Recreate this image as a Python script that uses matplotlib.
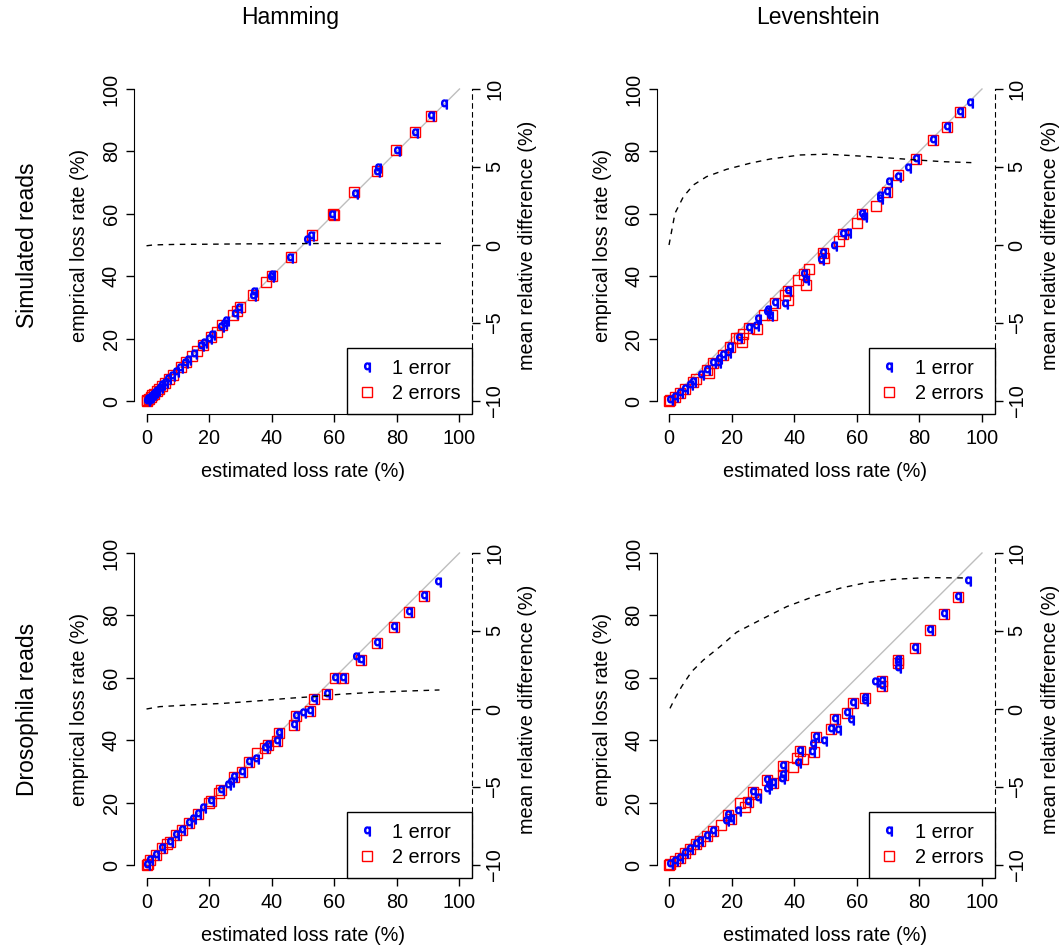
import matplotlib
matplotlib.use("Agg")
import matplotlib.pyplot as plt
from matplotlib.lines import Line2D

plt.rcParams["font.family"] = ["Liberation Sans", "DejaVu Sans"]
plt.rcParams["axes.unicode_minus"] = True

W, H = 1062, 947

# ---------------- data ----------------
# Simulated reads, Hamming
sim_ham_x1 = [0.2, 0.6, 1.0, 1.5, 2.1, 2.7, 3.4, 4.2, 5.1, 6.0, 7.0, 8.2, 9.5, 10.8,
              12.4, 13.2, 15.3, 17.5, 18.5, 19.9, 21.0, 23.8, 24.6, 25.3, 28.3, 29.5,
              33.9, 34.5, 39.9, 40.2, 46.0, 51.3, 52.6, 59.3, 66.7, 73.6, 74.0, 79.9,
              85.7, 91.0, 95.0]
sim_ham_y1 = [0.1, 0.5, 0.9, 1.4, 2.0, 2.6, 3.3, 4.1, 5.0, 5.9, 6.9, 8.0, 9.3, 10.6,
              12.2, 13.3, 15.2, 17.6, 18.6, 20.0, 21.2, 23.6, 24.7, 25.5, 28.0, 29.7,
              33.5, 34.8, 39.8, 40.5, 45.8, 51.6, 53.0, 59.6, 66.5, 73.3, 74.7, 80.1,
              85.8, 91.2, 95.3]
sim_ham_x2 = [0.0, 0.3, 0.8, 1.3, 1.8, 2.5, 3.2, 4.0, 5.0, 6.0, 7.3, 8.5, 11.0, 12.5,
              14.6, 16.0, 18.0, 20.5, 22.5, 24.2, 27.5, 29.0, 30.0, 34.0, 38.2, 40.0,
              46.2, 52.8, 59.5, 60.0, 66.4, 73.7, 79.8, 85.7, 91.0]
sim_ham_y2 = [0.0, 0.2, 0.7, 1.2, 1.8, 2.4, 3.1, 3.9, 4.8, 5.8, 7.1, 8.3, 10.9, 12.5,
              14.5, 16.0, 17.9, 20.4, 22.2, 24.4, 27.6, 28.9, 30.2, 34.0, 38.3, 40.0,
              46.1, 53.2, 59.8, 59.6, 66.9, 73.6, 80.5, 86.2, 91.4]
sim_ham_dx = [0, 2, 5, 10, 20, 30, 40, 50, 60, 70, 80, 90, 95]
sim_ham_dy = [-0.05, 0.0, 0.02, 0.04, 0.05, 0.07, 0.08, 0.09, 0.1, 0.1, 0.1, 0.1, 0.1]

# Simulated reads, Levenshtein
sim_lev_x1 = [0.3, 1.9, 3.5, 5.1, 6.7, 7.8, 10.1, 12.0, 14.2, 15.8, 16.1, 17.3, 19.0,
              19.5, 22.5, 25.7, 27.8, 28.5, 31.2, 31.7, 32.3, 33.9, 36.9, 38.1, 43.1,
              43.8, 48.6, 49.3, 52.7, 55.5, 57.3, 61.6, 62.3, 67.4, 67.4, 69.5, 70.3,
              73.3, 76.5, 78.9, 84.2, 88.7, 93.0, 96.2]
sim_lev_y1 = [0.3, 1.4, 2.5, 3.7, 5.1, 6.2, 8.4, 9.9, 12.3, 12.1, 13.6, 14.7, 15.3,
              17.2, 20.1, 23.3, 24.0, 26.2, 28.5, 29.2, 27.1, 31.3, 31.1, 35.4, 40.7,
              38.8, 45.2, 47.5, 49.8, 53.5, 53.9, 59.8, 58.9, 65.7, 64.6, 67.1, 70.3,
              71.9, 74.6, 77.6, 83.7, 87.9, 92.5, 95.4]
sim_lev_x2 = [0.0, 0.3, 1.9, 3.5, 5.1, 7.8, 8.6, 12.0, 12.9, 14.2, 17.3, 19.5, 21.4,
              22.5, 23.2, 23.7, 25.7, 28.0, 30.2, 32.8, 33.9, 37.1, 38.1, 38.1, 41.3,
              43.1, 43.8, 44.8, 49.3, 49.5, 54.4, 55.5, 60.2, 61.6, 66.1, 69.5, 73.3,
              78.9, 84.2, 88.7, 93.0]
sim_lev_y2 = [0.0, 0.3, 1.4, 2.5, 3.7, 6.2, 7.0, 9.9, 9.1, 12.3, 14.7, 17.2, 20.1,
              20.1, 19.0, 21.4, 23.3, 23.0, 27.6, 27.6, 31.3, 34.0, 35.4, 32.4, 38.8,
              40.7, 37.2, 42.2, 47.5, 45.8, 51.3, 53.5, 57.0, 59.8, 62.5, 67.1, 72.5,
              77.6, 83.7, 87.9, 92.5]
sim_lev_dx = [0, 1.9, 4.6, 7.8, 12.0, 18.4, 25.9, 32.3, 41.9, 50.4, 61.0, 71.7, 79.1,
              87.6, 96.6]
sim_lev_dy = [0.0, 2.03, 3.1, 3.85, 4.38, 4.85, 5.24, 5.51, 5.77, 5.82, 5.7, 5.56,
              5.45, 5.34, 5.28]

# Drosophila reads, Hamming
dro_ham_x1 = [0.0, 1.0, 2.9, 5.0, 7.6, 9.5, 11.4, 13.5, 14.8, 16.4, 18.2, 20.7, 23.9,
              26.0, 27.0, 28.1, 30.6, 32.9, 35.0, 37.7, 38.8, 41.6, 42.3, 47.0, 47.8,
              49.9, 52.1, 53.4, 57.6, 60.3, 62.9, 67.0, 68.6, 73.7, 79.0, 83.8, 88.8,
              93.1]
dro_ham_y1 = [0.0, 1.6, 3.2, 5.3, 7.5, 9.6, 11.2, 13.4, 14.9, 16.2, 18.2, 20.5, 24.0,
              25.6, 26.5, 28.1, 29.9, 32.9, 34.0, 37.6, 38.5, 39.7, 42.2, 44.9, 47.8,
              48.6, 49.5, 53.2, 54.7, 60.0, 60.0, 66.8, 65.7, 71.1, 76.4, 81.2, 86.3,
              90.8]
dro_ham_x2 = [0.0, 0.4, 1.0, 2.9, 5.0, 6.5, 7.6, 9.5, 11.4, 13.5, 16.4, 20.1, 20.7,
              23.3, 23.9, 28.1, 30.6, 32.9, 35.4, 37.7, 38.8, 41.6, 42.3, 47.0, 47.8,
              52.1, 53.4, 57.6, 60.3, 62.9, 68.6, 73.7, 79.0, 83.8, 88.8]
dro_ham_y2 = [0.0, 0.4, 1.6, 3.2, 5.3, 6.6, 7.5, 9.6, 11.2, 13.4, 16.2, 19.8, 20.5,
              23.0, 24.0, 28.1, 29.9, 32.9, 35.9, 37.6, 38.5, 39.7, 42.2, 44.9, 47.8,
              49.5, 53.2, 54.7, 60.0, 60.0, 65.7, 71.1, 76.4, 81.2, 86.3]
dro_ham_dx = [0, 4.2, 13.7, 24.4, 35.0, 45.7, 53.1, 61.7, 72.3, 83.0, 93.6]
dro_ham_dy = [0.0, 0.15, 0.26, 0.36, 0.51, 0.69, 0.79, 0.94, 1.07, 1.15, 1.22]

# Drosophila reads, Levenshtein
dro_lev_x1 = [0.3, 1.9, 3.5, 5.1, 6.7, 8.6, 9.9, 12.0, 14.2, 18.2, 18.9, 19.7, 22.2,
              25.3, 26.9, 28.5, 31.2, 31.4, 32.0, 33.3, 36.0, 36.5, 36.5, 41.1, 41.9,
              45.6, 46.1, 47.0, 49.6, 51.7, 53.0, 54.1, 57.0, 58.1, 58.9, 62.6, 62.6,
              65.8, 67.9, 67.9, 73.3, 73.3, 73.3, 78.6, 83.4, 87.9, 92.2, 95.6]
dro_lev_y1 = [0.2, 1.3, 2.3, 3.7, 5.1, 6.6, 7.7, 9.2, 11.0, 14.1, 16.0, 14.9, 17.3,
              20.1, 23.5, 21.4, 24.3, 27.2, 25.6, 26.2, 27.5, 31.8, 28.8, 32.6, 36.5,
              36.3, 38.7, 41.1, 39.7, 43.6, 46.7, 43.3, 48.6, 46.5, 52.0, 53.6, 52.6,
              58.8, 59.0, 57.5, 65.7, 64.6, 63.2, 69.7, 75.3, 80.3, 85.8, 91.0]
dro_lev_x2 = [0.0, 0.3, 1.9, 3.5, 5.1, 6.7, 8.6, 9.9, 12.0, 14.2, 16.5, 18.9, 19.7,
              22.7, 24.3, 25.3, 26.9, 27.8, 31.4, 33.3, 36.5, 36.5, 39.7, 40.8, 41.9,
              42.9, 46.3, 47.0, 51.7, 53.0, 57.0, 58.9, 62.6, 67.9, 67.9, 73.3, 73.3,
              78.6, 83.4, 87.9, 92.2]
dro_lev_y2 = [0.0, 0.2, 1.3, 2.3, 3.7, 5.1, 6.6, 7.7, 9.2, 11.0, 12.8, 16.0, 14.9,
              19.8, 18.7, 20.1, 23.5, 22.6, 27.2, 26.2, 31.8, 28.8, 31.5, 34.2, 36.5,
              33.9, 36.3, 41.1, 43.6, 46.7, 48.6, 52.0, 53.6, 59.0, 57.5, 65.7, 64.6,
              69.7, 75.3, 80.3, 85.8]
dro_lev_dx = [0.3, 1.9, 4.0, 7.2, 11.0, 16.3, 21.6, 29.1, 37.6, 46.1, 54.6, 63.1,
              71.7, 82.3, 94.6]
dro_lev_dy = [0.04, 0.68, 1.43, 2.39, 3.14, 4.0, 4.92, 5.7, 6.56, 7.2, 7.74, 8.1,
              8.31, 8.42, 8.4]

diag = [0, 100]
xy_ticks = [0, 20, 40, 60, 80, 100]
diff_ticks = [-10, -5, 0, 5, 10]
col_titles = ["Hamming", "Levenshtein"]
row_titles = ["Simulated reads", "Drosophila reads"]

panels = [
    (sim_ham_x1, sim_ham_y1, sim_ham_x2, sim_ham_y2, sim_ham_dx, sim_ham_dy),
    (sim_lev_x1, sim_lev_y1, sim_lev_x2, sim_lev_y2, sim_lev_dx, sim_lev_dy),
    (dro_ham_x1, dro_ham_y1, dro_ham_x2, dro_ham_y2, dro_ham_dx, dro_ham_dy),
    (dro_lev_x1, dro_lev_y1, dro_lev_x2, dro_lev_y2, dro_lev_dx, dro_lev_dy),
]

# pixel boxes of the plot regions (x0, y0, x1, y1)
boxes = [(134, 76.5, 472, 413.5), (656.5, 76.5, 994.5, 413.5),
         (134, 540.5, 472, 877.5), (656.5, 540.5, 994.5, 877.5)]

FS = 14.3
BLUE = "#0000FF"
RED = "#FF0000"
QMARK = r"$\mathsf{q}$"

fig = plt.figure(figsize=(W / 100, H / 100), dpi=100)
fig.patch.set_facecolor("white")

for (x1, y1, x2, y2, dx, dy), (bx0, by0, bx1, by1) in zip(panels, boxes):
    ax = fig.add_axes([bx0 / W, 1 - by1 / H, (bx1 - bx0) / W, (by1 - by0) / H])
    ax.set_xlim(-4, 104)
    ax.set_ylim(-4, 104)
    ax.plot(diag, diag, color="#BEBEBE", lw=1, zorder=1)
    ax.plot(x2, y2, ls="none", marker="s", ms=7, mfc="none", mec=RED, mew=1, zorder=2)
    ax.plot(x1, y1, ls="none", marker=QMARK, ms=6.5, color=BLUE, zorder=3)

    for s in ("top", "right"):
        ax.spines[s].set_visible(False)
    ax.spines["bottom"].set_bounds(0, 100)
    ax.spines["left"].set_bounds(0, 100)
    ax.set_xticks(xy_ticks)
    ax.set_yticks(xy_ticks)
    ax.tick_params(direction="out", length=5.5, width=1, labelsize=FS, pad=4)
    ax.tick_params(axis="x", pad=5.5)
    for lab in ax.get_yticklabels():
        lab.set_rotation(90)
        lab.set_va("center")
    ax.set_xlabel("estimated loss rate (%)", fontsize=FS, labelpad=10)
    ax.set_ylabel("emprical loss rate (%)", fontsize=FS, labelpad=9)

    # right axis: mean relative difference, dashed
    tw = ax.twinx()
    tw.set_ylim(-10.8, 10.8)
    tw.plot(dx, dy, color="black", lw=1, ls=(0, (4, 4)))
    for s in ("top", "left", "bottom"):
        tw.spines[s].set_visible(False)
    tw.spines["right"].set_bounds(-10, 10)
    tw.spines["right"].set_linestyle((0, (4, 4)))
    tw.set_yticks(diff_ticks)
    tw.tick_params(direction="out", length=5.5, width=1, labelsize=FS, pad=4)
    for lab in tw.get_yticklabels():
        lab.set_rotation(90)
        lab.set_va("center")
    tw.set_ylabel("mean relative difference (%)", fontsize=FS, labelpad=10)

    handles = [
        Line2D([], [], ls="none", marker=QMARK, ms=6.5, color=BLUE),
        Line2D([], [], ls="none", marker="s", ms=7, mfc="none", mec=RED, mew=1),
    ]
    leg = tw.legend(handles, ["1 error", "2 errors"], loc="lower right",
                    bbox_to_anchor=(1, 0), borderaxespad=0, fontsize=FS,
                    frameon=True, fancybox=False, edgecolor="black",
                    framealpha=1, handlelength=0.9, handletextpad=0.85,
                    borderpad=0.55, labelspacing=0.3)
    leg.get_frame().set_linewidth(1)

fig.text(290 / W, 1 - 24 / H, col_titles[0], ha="center", va="baseline", fontsize=16.5)
fig.text(818 / W, 1 - 24 / H, col_titles[1], ha="center", va="baseline", fontsize=16.5)
fig.text(28 / W, 1 - 245 / H, row_titles[0], ha="center", va="center",
         rotation=90, fontsize=16.5)
fig.text(28 / W, 1 - 709 / H, row_titles[1], ha="center", va="center",
         rotation=90, fontsize=16.5)

fig.savefig("out.png", dpi=100, facecolor="white")
